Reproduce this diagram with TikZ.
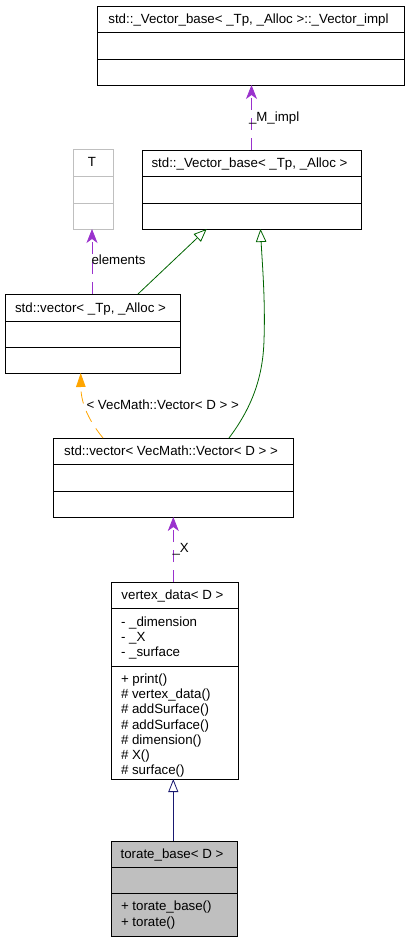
\documentclass[tikz,border=0pt]{standalone}
\usepackage{fontspec}
\setmainfont{Liberation Sans}
\usetikzlibrary{arrows.meta}
\definecolor{dxpurple}{HTML}{9A32CD}
\definecolor{dxgreen}{HTML}{006400}
\definecolor{dxnavy}{HTML}{191970}
\definecolor{dxorange}{HTML}{FFA500}
\definecolor{dxgray}{HTML}{BFBFBF}
\tikzset{
  umlbox/.style={draw=black, line width=0.9pt, inner sep=0pt, outer sep=0pt, anchor=north west},
  divline/.style={draw=black, line width=0.9pt},
  txt/.style={font=\fontsize{13.3}{15.2}\selectfont, inner sep=0pt, outer sep=0pt},
  title/.style={txt, anchor=base},
  member/.style={txt, anchor=base west},
  lbl/.style={txt, anchor=base west},
  usage/.style={draw=dxpurple, line width=0.8pt, dash pattern=on 12pt off 8pt, -{Stealth[length=14pt, width=11pt, inset=4pt, fill=dxpurple]}},
  tmpl/.style={draw=dxorange, line width=0.8pt, dash pattern=on 12pt off 8pt, -{Triangle[length=14pt, width=9.5pt, fill=dxorange]}},
  inhgreen/.style={draw=dxgreen, line width=0.8pt, -{Triangle[open, length=13pt, width=10.5pt]}},
  inhnavy/.style={draw=dxnavy, line width=0.8pt, -{Triangle[open, length=13pt, width=10pt]}},
}
\begin{document}
\begin{tikzpicture}[x=1pt, y=-1pt]
\useasboundingbox (0,0) rectangle (409,941);

% Boxes
\node[umlbox, minimum width=307pt, minimum height=79pt] (A) at (97,6) {};
\draw[divline] (A.west |- 0,32) -- (A.east |- 0,32);
\draw[divline] (A.west |- 0,59) -- (A.east |- 0,59);
\node[title] (At) at (248.5,23.5) {std::\_Vector\_base< \_Tp, \_Alloc >::\_Vector\_impl};

\node[umlbox, minimum width=219pt, minimum height=79pt] (B) at (142,150) {};
\draw[divline] (B.west |- 0,176) -- (B.east |- 0,176);
\draw[divline] (B.west |- 0,203) -- (B.east |- 0,203);
\node[title] (Bt) at (249.5,167.5) {std::\_Vector\_base< \_Tp, \_Alloc >};

\node[umlbox, draw=dxgray, minimum width=40pt, minimum height=80pt] (T) at (73,149) {};
\draw[divline, draw=dxgray] (T.west |- 0,176) -- (T.east |- 0,176);
\draw[divline, draw=dxgray] (T.west |- 0,203) -- (T.east |- 0,203);
\node[title] (Tt) at (92,167) {T};

\node[umlbox, minimum width=175pt, minimum height=79pt] (C) at (5,294) {};
\draw[divline] (C.west |- 0,321) -- (C.east |- 0,321);
\draw[divline] (C.west |- 0,347) -- (C.east |- 0,347);
\node[title] (Ct) at (90.5,312) {std::vector< \_Tp, \_Alloc >};

\node[umlbox, minimum width=240pt, minimum height=79pt] (D) at (53,438) {};
\draw[divline] (D.west |- 0,464) -- (D.east |- 0,464);
\draw[divline] (D.west |- 0,491) -- (D.east |- 0,491);
\node[title] (Dt) at (171,455.5) {std::vector< VecMath::Vector< D > >};

\node[umlbox, minimum width=127pt, minimum height=197pt] (E) at (111,582) {};
\draw[divline] (E.west |- 0,608) -- (E.east |- 0,608);
\draw[divline] (E.west |- 0,666) -- (E.east |- 0,666);
\node[title] (Et) at (172.5,599.5) {vertex\_data< D >};
\node[member] (Ea1) at (121,626) {- \_dimension};
\node[member] (Ea2) at (121,641.2) {- \_X};
\node[member] (Ea3) at (121,656.4) {- \_surface};
\node[member] (Em1) at (121,683.5) {+ print()};
\node[member] (Em2) at (121,698.7) {\# vertex\_data()};
\node[member] (Em3) at (121,713.9) {\# addSurface()};
\node[member] (Em4) at (121,729.1) {\# addSurface()};
\node[member] (Em5) at (121,744.3) {\# dimension()};
\node[member] (Em6) at (121,759.5) {\# X()};
\node[member] (Em7) at (121,774.7) {\# surface()};

\node[umlbox, fill=dxgray, minimum width=126pt, minimum height=95pt] (F) at (111,841) {};
\draw[divline] (F.west |- 0,867) -- (F.east |- 0,867);
\draw[divline] (F.west |- 0,893) -- (F.east |- 0,893);
\node[title] (Ft) at (172,858.5) {torate\_base< D >};
\node[member] (Fm1) at (121,910.7) {+ torate\_base()};
\node[member] (Fm2) at (121,926.2) {+ torate()};

% Connectors
\draw[usage] (B.north -| 251.5,0) -- (A.south -| 251.5,0);
\node[lbl] (Lm) at (249,121.5) {\_M\_impl};

\draw[usage] (C.north -| 92,0) -- (T.south -| 92,0);
\node[lbl] (Le) at (91.5,264.3) {elements};

\draw[inhgreen] (C.north -| 138,0) -- (B.south -| 206.7,0);

\draw[inhgreen] (D.north -| 229,0) .. controls (250,410) and (263,380) .. (264,340)
  .. controls (265.5,300) and (262,260) .. (B.south -| 260.5,0);

\draw[tmpl] (D.north -| 103,0) .. controls (90,422) and (81,405) .. (C.south -| 80.7,0);
\node[lbl] (Lv) at (86.5,409) {< VecMath::Vector< D > >};

\draw[usage] (E.north -| 173.3,0) -- (D.south -| 173.3,0);
\node[lbl] (Lx) at (172.5,552) {\_X};

\draw[inhnavy] (F.north -| 173.3,0) -- (E.south -| 173.3,0);
\end{tikzpicture}
\end{document}
